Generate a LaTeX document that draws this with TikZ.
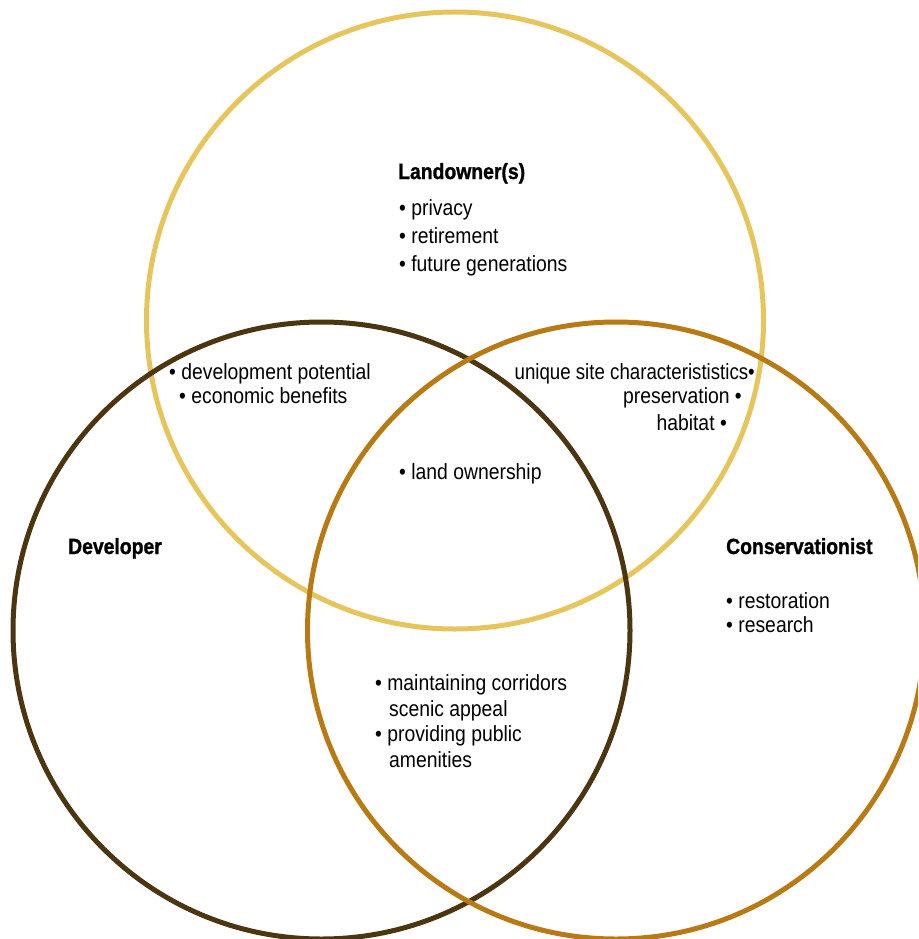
\documentclass[tikz,border=0pt]{standalone}
\usepackage{fontspec}
\setmainfont{Liberation Sans}[FakeStretch=0.88,BoldFeatures={FakeBold=1.2}]
\definecolor{landyellow}{HTML}{E6C65C}
\definecolor{devbrown}{HTML}{4B3611}
\definecolor{consorange}{HTML}{B87A14}
\begin{document}
\begin{tikzpicture}[x=1pt,y=-1pt,
  ring/.style={line width=5pt},
  head/.style={anchor=base west,inner sep=0pt,font=\fontsize{22}{28}\selectfont\bfseries},
  item/.style={anchor=base west,inner sep=0pt,font=\fontsize{22}{28}\selectfont},
  itemr/.style={anchor=base east,inner sep=0pt,font=\fontsize{22}{28}\selectfont}]
\useasboundingbox (0,0) rectangle (918,939);
\begin{scope}
\clip (0,0) rectangle (918,939);
% the three interest circles
\draw[ring,landyellow] (455,320.5) circle[radius=308.5];
\draw[ring,devbrown] (321.5,630.5) circle[radius=308.5];
\draw[ring,consorange] (616,630.5) circle[radius=308.5];
\end{scope}
% Landowner(s)
\node[head] (lhead) at (398,179) {Landowner(s)};
\node[item] (l1) at (399,215) {\textbullet\ privacy};
\node[item] (l2) at (399,243) {\textbullet\ retirement};
\node[item] (l3) at (399,271) {\textbullet\ future generations};
% landowner and developer
\node[item] (ld1) at (169,379) {\textbullet\ development potential};
\node[item] (ld2) at (179,403) {\textbullet\ economic benefits};
% landowner and conservationist
\node[itemr,xscale=0.965] (lc1) at (755,379) {unique site characterististics\textbullet};
\node[itemr] (lc2) at (742,403) {preservation \textbullet};
\node[itemr] (lc3) at (727,430) {habitat \textbullet};
% all three
\node[item] (all1) at (399,479) {\textbullet\ land ownership};
% Developer
\node[head] (dhead) at (68,554) {Developer};
% Conservationist
\node[head] (chead) at (726,554) {Conservationist};
\node[item] (c1) at (726,608) {\textbullet\ restoration};
\node[item] (c2) at (726,632) {\textbullet\ research};
% developer and conservationist
\node[item] (dc1) at (375,690) {\textbullet\ maintaining corridors};
\node[item] (dc2) at (389,716) {scenic appeal};
\node[item] (dc3) at (375,741) {\textbullet\ providing public};
\node[item] (dc4) at (389,767) {amenities};
\end{tikzpicture}
\end{document}
